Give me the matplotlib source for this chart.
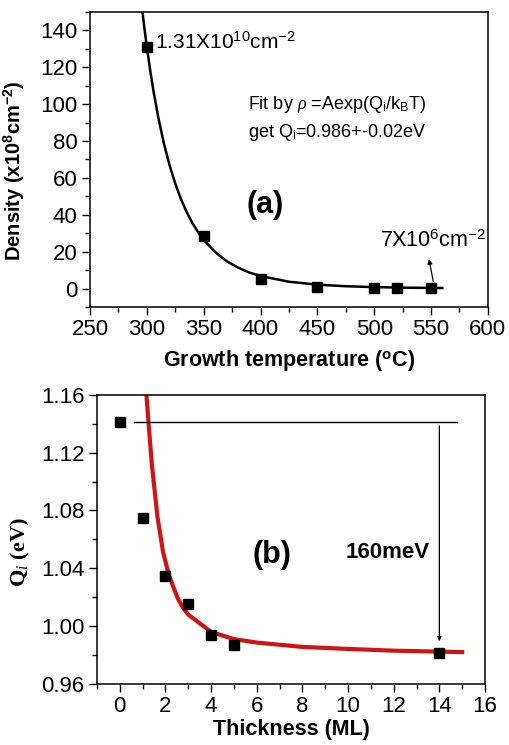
import matplotlib
matplotlib.use('Agg')
import matplotlib.pyplot as plt
from matplotlib.ticker import MultipleLocator

plt.rcParams['font.family'] = ['Liberation Sans', 'DejaVu Sans']
plt.rcParams['mathtext.fontset'] = 'custom'
plt.rcParams['mathtext.rm'] = 'Liberation Sans'
plt.rcParams['mathtext.bf'] = 'Liberation Sans:bold'
plt.rcParams['mathtext.it'] = 'Liberation Serif:italic'

# (a) density vs growth temperature
temp = [300, 350, 400, 450, 500, 520, 550]
density = [131, 28.4, 5.0, 1.0, 0.5, 0.4, 0.07]
# fit line
fit_temp = [296, 298, 300, 303, 306, 310, 315, 320, 325, 330, 335, 340, 345, 350,
            360, 370, 380, 390, 400, 425, 450, 475, 500, 530, 560]
fit_density = [150.7, 140.5, 131, 118.1, 106.5, 93.0, 78.7, 66.8, 56.9, 48.5, 41.5, 35.6, 30.6, 26.4,
               19.8, 14.9, 11.4, 8.7, 6.75, 3.67, 2.08, 1.23, 0.75, 0.43, 0.26]

# (b) Qi vs thickness
thick = [0, 1, 2, 3, 4, 5, 14]
qi = [1.141, 1.075, 1.035, 1.015, 0.994, 0.987, 0.9815]
fit_thick = [1.17, 1.26, 1.4, 1.65, 1.9, 2.16, 2.4, 2.55, 2.7, 2.85, 3.0, 3.5, 4.0, 5.0, 6.0, 8.0, 10, 12, 15]
fit_qi = [1.16, 1.141, 1.113, 1.076, 1.051, 1.035, 1.025, 1.019, 1.0145, 1.011, 1.008, 1.002, 0.996,
          0.991, 0.9886, 0.9856, 0.9842, 0.983, 0.982]

fig = plt.figure(figsize=(5.1, 7.45), dpi=100)

def style_axes(ax):
    for s in ax.spines.values():
        s.set_linewidth(1.1)
    ax.tick_params(which='major', direction='out', length=6, width=1, labelsize=16, pad=3,
                   top=False, right=False)
    ax.tick_params(which='minor', direction='out', length=3.5, width=1,
                   top=False, right=False)

# ---- top panel
ax1 = fig.add_axes([0.1765, 0.588, 0.780, 0.396])
ax1.plot(fit_temp, fit_density, color='black', lw=1.8)
ax1.plot(temp, density, 's', color='black', ms=7)
ax1.set_xlim(250, 600)
ax1.set_ylim(-10, 150)
ax1.xaxis.set_major_locator(MultipleLocator(50))
ax1.xaxis.set_minor_locator(MultipleLocator(25))
ax1.yaxis.set_major_locator(MultipleLocator(20))
ax1.yaxis.set_minor_locator(MultipleLocator(10))
style_axes(ax1)
ax1.set_xlabel(r'Growth temperature ($^{\mathbf{o}}$C)', fontsize=15.5, fontweight='bold')
ax1.set_ylabel(r'Density (x10$^{\mathbf{8}}$cm$^{\mathbf{-2}}$)', fontsize=14.5, fontweight='bold')
ax1.xaxis.set_label_coords(0.5, -0.139)
ax1.yaxis.set_label_coords(-0.158, 0.461)

ax1.text(307.5, 133.7, r'1.31X10$^{10}$cm$^{-2}$', fontsize=15, va='center', ha='left')
ax1.text(389, 100, r'Fit by $\rho$ =Aexp(Q$_{\mathrm{i}}$/k$_{\mathrm{B}}$T)', fontsize=13, va='center', ha='left')
ax1.text(389, 84.5, r'get Q$_{\mathrm{i}}$=0.986+-0.02eV', fontsize=13, va='center', ha='left')
ax1.text(404.5, 45.5, '(a)', fontsize=22, fontweight='bold', va='center', ha='center')
ax1.text(505, 25.5, r'7X10$^{6}$cm$^{-2}$', fontsize=15.5, va='center', ha='left')
ax1.annotate('', xy=(548.2, 16), xytext=(552, 3.9),
             arrowprops=dict(arrowstyle='-|>', color='black', lw=0.9,
                             mutation_scale=7, shrinkA=0, shrinkB=0))

# ---- bottom panel
ax2 = fig.add_axes([0.190, 0.082, 0.761, 0.388])
ax2.plot(fit_thick, fit_qi, color='#d01414', lw=3)
ax2.plot(thick, qi, 's', color='black', ms=7)
ax2.plot([0.63, 14.76], [1.141, 1.141], color='black', lw=1)
ax2.annotate('', xy=(14, 0.9895), xytext=(14, 1.1385),
             arrowprops=dict(arrowstyle='-|>', color='black', lw=0.9,
                             mutation_scale=6, shrinkA=0, shrinkB=0))
ax2.set_xlim(-1, 16)
ax2.set_ylim(0.96, 1.16)
ax2.xaxis.set_major_locator(MultipleLocator(2))
ax2.xaxis.set_minor_locator(MultipleLocator(1))
ax2.yaxis.set_major_locator(MultipleLocator(0.04))
ax2.yaxis.set_minor_locator(MultipleLocator(0.02))
ax2.yaxis.set_major_formatter(plt.FormatStrFormatter('%.2f'))
style_axes(ax2)
ax2.set_xlabel('Thickness (ML)', fontsize=15.5, fontweight='bold')
ax2.set_ylabel(r'Q$_{i}$ (eV)', fontsize=16, fontweight='bold', family='Liberation Serif')
ax2.xaxis.set_label_coords(0.5, -0.121)
ax2.yaxis.set_label_coords(-0.168, 0.457)
ax2.text(6.65, 1.049, '(b)', fontsize=22, fontweight='bold', va='center', ha='center')
ax2.text(9.9, 1.0506, '160meV', fontsize=16, fontweight='bold', va='center', ha='left')

fig.savefig('out.png', dpi=100)
